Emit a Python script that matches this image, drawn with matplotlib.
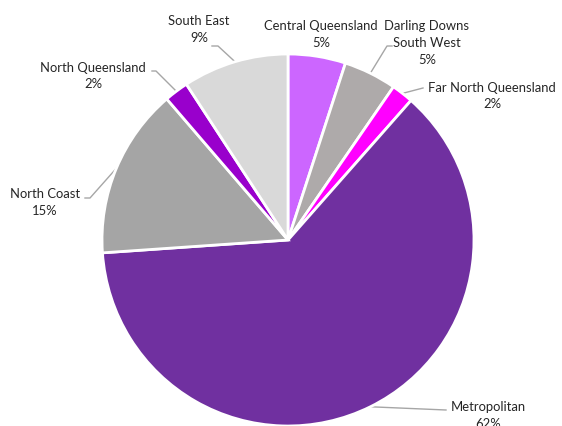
import matplotlib
matplotlib.use("Agg")
import matplotlib.pyplot as plt
import numpy as np

categories = ["Central Queensland", "Darling Downs\nSouth West", "Far North Queensland",
              "Metropolitan", "North Coast", "North Queensland", "South East"]
values = [5.0, 4.6, 1.9, 62.4, 14.8, 2.1, 9.2]
colors = ["#CC66FF", "#AEAAAA", "#FF00FF", "#7030A0", "#A5A5A5", "#9900CC", "#D9D9D9"]

plt.rcParams['font.family'] = ['Lato', 'DejaVu Sans']

W, H = 562, 427
fig = plt.figure(figsize=(W / 100, H / 100), dpi=100)
CX, CY, R = 288, 241, 186
ax = fig.add_axes([(CX - R) / W, (H - CY - R) / H, 2 * R / W, 2 * R / H])
wedges, _ = ax.pie(values, colors=colors, startangle=90, counterclock=False, radius=1,
                   wedgeprops=dict(edgecolor="white", linewidth=2))
ax.set_xlim(-1, 1)
ax.set_ylim(-1, 1)
ax.set_aspect("equal")
ax.axis("off")


def px(x, y):
    return ((x - CX) / R, (CY - y) / R)


# label layout: text block centre, leader line start points (pixels)
label_pos = {
    "Central Queensland": (321, 34, None),
    "Darling Downs\nSouth West": (427, 43, [(392, 47), (387, 47)]),
    "Far North Queensland": (492, 96, [(423, 89)]),
    "Metropolitan": (488, 416, [(446, 411)]),
    "North Coast": (45, 203, [(85, 199), (90, 199)]),
    "North Queensland": (93, 76, [(152, 72), (156, 72)]),
    "South East": (199, 30, [(212, 47), (218, 47)]),
}

total = sum(values)
for w, cat, v in zip(wedges, categories, values):
    tx, ty, leader = label_pos[cat]
    pct = f"{v / total * 100:.0f}%"
    x, y = px(tx, ty)
    ax.text(x, y, f"{cat}\n{pct}", ha="center", va="center", fontsize=9.4,
            color="#262626", linespacing=1.5, clip_on=False)
    if leader:
        ang = np.deg2rad((w.theta1 + w.theta2) / 2)
        ex, ey = np.cos(ang), np.sin(ang)
        pts = [px(*p) for p in leader] + [(ex, ey)]
        xs, ys = zip(*pts)
        ax.plot(xs, ys, color="#A6A6A6", lw=1, clip_on=False, zorder=0)

fig.savefig("out.png", dpi=100)
